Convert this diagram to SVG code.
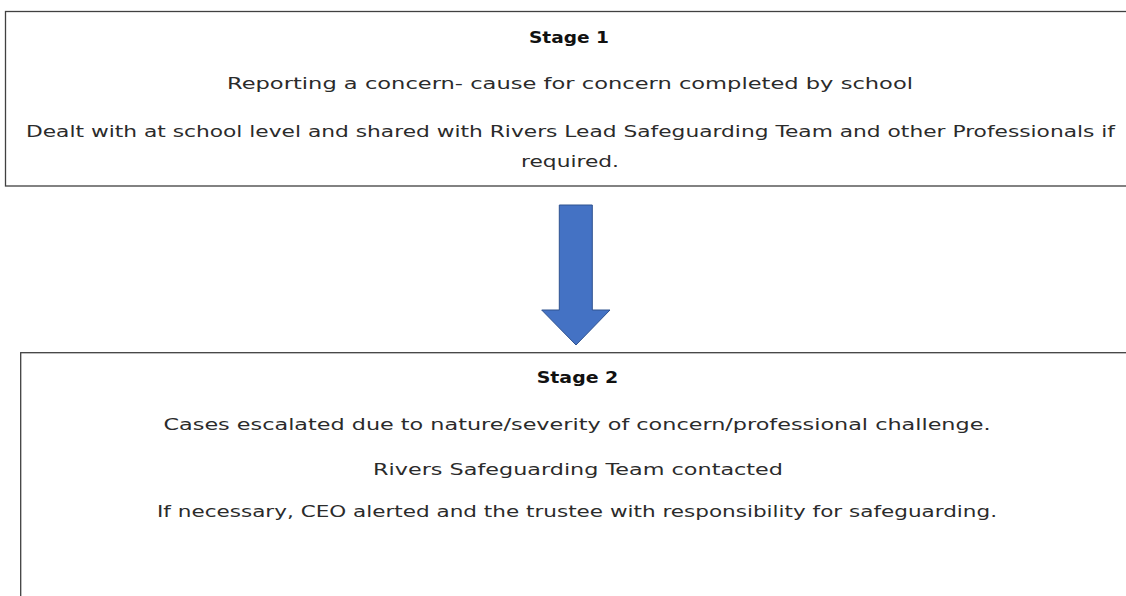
<svg xmlns="http://www.w3.org/2000/svg" width="1126" height="596" viewBox="0 0 1126 596">
<style>
.box{fill:#ffffff;stroke:#404040;stroke-width:1.3}
.t{font-family:"DejaVu Sans","Liberation Sans",sans-serif;font-size:16.5px;fill:#2b2b2b;text-anchor:middle}
.h{font-weight:bold;fill:#111111;font-size:16px}
.arrow{fill:#4472C4;stroke:#2F528F;stroke-width:1}
</style>
<rect width="1126" height="596" fill="#ffffff"/>
<g id="stage1">
<rect class="box" x="5.5" y="11.5" width="1130" height="174.5"/>
<text class="t h" x="569" y="43" textLength="80" lengthAdjust="spacingAndGlyphs">Stage 1</text>
<text class="t" x="570" y="89" textLength="686" lengthAdjust="spacingAndGlyphs">Reporting a concern- cause for concern completed by school</text>
<text class="t" x="570.5" y="137" textLength="1089" lengthAdjust="spacingAndGlyphs">Dealt with at school level and shared with Rivers Lead Safeguarding Team and other Professionals if</text>
<text class="t" x="570" y="167" textLength="98" lengthAdjust="spacingAndGlyphs">required.</text>
</g>
<g id="connectors">
<path class="arrow" d="M559.3,205 H592.3 V310 H610 L576,345 L541.7,310 H559.3 Z"/>
</g>
<g id="stage2">
<rect class="box" x="20.7" y="352.7" width="1120" height="260"/>
<text class="t h" x="577.5" y="383" textLength="81.6" lengthAdjust="spacingAndGlyphs">Stage 2</text>
<text class="t" x="577" y="430" textLength="827" lengthAdjust="spacingAndGlyphs">Cases escalated due to nature/severity of concern/professional challenge.</text>
<text class="t" x="578" y="475" textLength="410" lengthAdjust="spacingAndGlyphs">Rivers Safeguarding Team contacted</text>
<text class="t" x="577" y="517" textLength="840" lengthAdjust="spacingAndGlyphs">If necessary, CEO alerted and the trustee with responsibility for safeguarding.</text>
</g>
</svg>
